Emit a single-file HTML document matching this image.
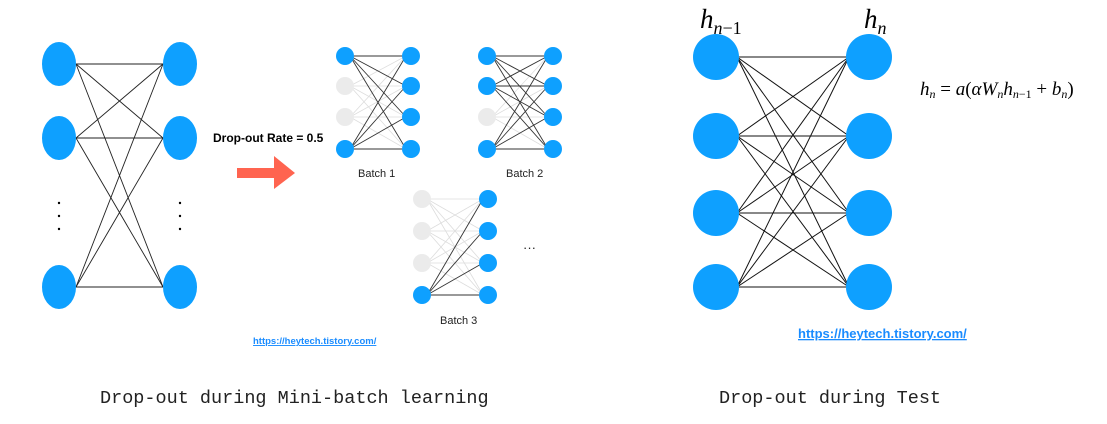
<!DOCTYPE html>
<html><head><meta charset="utf-8"><style>
html,body{margin:0;padding:0;background:#fff;width:1107px;height:424px;overflow:hidden}
svg{display:block}
</style></head><body>
<svg id="s" width="1107" height="424" xmlns="http://www.w3.org/2000/svg">
<g id="lines"></g><g id="nodes"></g>
<text x="213" y="142" font-family="Liberation Sans, sans-serif" font-weight="bold" font-size="12" fill="#000">Drop-out Rate = 0.5</text>
<polygon points="237,168 274,168 274,156 295,173 274,189 274,178 237,178" fill="#ff6450"/>
<text x="358" y="177" font-family="Liberation Sans, sans-serif" font-size="11" fill="#222">Batch 1</text>
<text x="506" y="177" font-family="Liberation Sans, sans-serif" font-size="11" fill="#222">Batch 2</text>
<text x="440" y="324" font-family="Liberation Sans, sans-serif" font-size="11" fill="#222">Batch 3</text>
<text x="523" y="252" font-family="Liberation Sans, sans-serif" font-size="13" fill="#222">···</text>
<text x="253" y="344" font-family="Liberation Sans, sans-serif" font-weight="bold" font-size="9.5" fill="#1a8cff" text-decoration="underline">https://heytech.tistory.com/</text>
<text x="798" y="338" font-family="Liberation Sans, sans-serif" font-weight="bold" font-size="13" fill="#1a8cff" text-decoration="underline">https://heytech.tistory.com/</text>
<text x="700" y="28" font-family="Liberation Serif, serif" font-style="italic" font-size="27">h<tspan font-size="18" dy="6">n</tspan><tspan font-size="18" font-style="normal">−1</tspan></text>
<text x="864" y="28" font-family="Liberation Serif, serif" font-style="italic" font-size="27">h<tspan font-size="18" dy="6">n</tspan></text>
<text x="920" y="95" font-family="Liberation Serif, serif" font-style="italic" font-size="19">h<tspan font-size="12" dy="3">n</tspan><tspan dy="-3" font-style="normal"> = </tspan>a<tspan font-style="normal">(</tspan>αW<tspan font-size="12" dy="3">n</tspan><tspan dy="-3">h</tspan><tspan font-size="12" dy="3">n<tspan font-style="normal">−1</tspan></tspan><tspan dy="-3" font-style="normal"> + </tspan>b<tspan font-size="12" dy="3">n</tspan><tspan dy="-3" font-style="normal">)</tspan></text>
<text x="100" y="403" font-family="Liberation Mono, monospace" font-size="18.5" fill="#222">Drop-out during Mini-batch learning</text>
<text x="719" y="403" font-family="Liberation Mono, monospace" font-size="18.5" fill="#222">Drop-out during Test</text>
</svg>
<script>
var L=document.getElementById('lines'),N=document.getElementById('nodes'),ns='http://www.w3.org/2000/svg';
function el(p,t,a){var e=document.createElementNS(ns,t);for(var k in a)e.setAttribute(k,a[k]);p.appendChild(e);}
var B='#0ea0ff',G='#ebebeb';
var ly=[64,138,287];
ly.forEach(function(a){ly.forEach(function(b){el(L,'line',{x1:76,y1:a,x2:163,y2:b,stroke:'#222','stroke-width':0.9});});});
ly.forEach(function(y){el(N,'ellipse',{cx:59,cy:y,rx:17,ry:22,fill:B});el(N,'ellipse',{cx:180,cy:y,rx:17,ry:22,fill:B});});
[203,216,229].forEach(function(y){el(N,'circle',{cx:59,cy:y,r:1.2,fill:'#000'});el(N,'circle',{cx:180,cy:y,r:1.2,fill:'#000'});});
function batch(lx,rx,ys,act){
  ys.forEach(function(a,i){ys.forEach(function(b){if(!act[i])el(L,'line',{x1:lx+5,y1:a,x2:rx-5,y2:b,stroke:'#ddd','stroke-width':0.8});});});
  ys.forEach(function(a,i){ys.forEach(function(b){if(act[i])el(L,'line',{x1:lx+5,y1:a,x2:rx-5,y2:b,stroke:'#333','stroke-width':0.9});});});
  ys.forEach(function(y,i){el(N,'circle',{cx:lx,cy:y,r:9,fill:act[i]?B:G});el(N,'circle',{cx:rx,cy:y,r:9,fill:B});});
}
batch(345,411,[56,86,117,149],[1,0,0,1]);
batch(487,553,[56,86,117,149],[1,1,0,1]);
batch(422,488,[199,231,263,295],[0,0,0,1]);
var ty=[57,136,213,287];
ty.forEach(function(a){ty.forEach(function(b){el(L,'line',{x1:737,y1:a,x2:849,y2:b,stroke:'#111','stroke-width':1});});});
ty.forEach(function(y){el(N,'circle',{cx:716,cy:y,r:23,fill:B});el(N,'circle',{cx:869,cy:y,r:23,fill:B});});
</script>
</body></html>
